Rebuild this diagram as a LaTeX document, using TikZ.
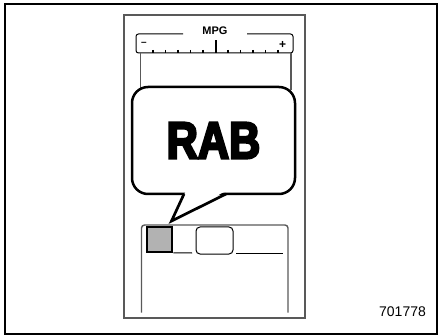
\documentclass[tikz,border=0pt]{standalone}
\usepackage{fontspec}
\setmainfont{Liberation Sans}
\font\rabf="Liberation Sans/B:embolden=4.5;extend=0.83" at 52pt
\begin{document}
\begin{tikzpicture}[x=1pt,y=-1pt,
  frameline/.style={draw=black,line width=1.2pt},
  devline/.style={draw=black!65,line width=1.4pt},
  gaugeline/.style={draw=black,line width=1pt},
  bubble/.style={draw=black,line width=2.5pt,rounded corners=16pt,fill=white,
    minimum width=163pt,minimum height=107pt,inner sep=0pt,
    font=\rabf},
  graybox/.style={draw=black,line width=2.8pt,fill=black!30,minimum width=25pt,minimum height=25pt,inner sep=0pt},
  softbox/.style={draw=black,line width=1pt,rounded corners=4pt,minimum width=37pt,minimum height=27pt,inner sep=0pt},
  tick/.style={draw=black,line width=1.1pt}]
\useasboundingbox (0,0) rectangle (438,336);
% outer frame
\draw[frameline] (5,4) rectangle (437,334);
% device frame
\draw[devline] (124,15) rectangle (305,318);
% gauge
\node[font=\bfseries\fontsize{11}{11}\selectfont,inner sep=0pt] (mpg) at (215,31) {MPG};
\draw[gaugeline,rounded corners=2.5pt] (183,34) -- (136,34) -- (136,53) -- (293,53) -- (293,34) -- (247,34);
\node[font=\bfseries\fontsize{10}{10}\selectfont,inner sep=0pt] (minus) at (144,44) {\char"2013};
\node[font=\bfseries\fontsize{12}{12}\selectfont,inner sep=0pt] (plus) at (282.5,45) {+};
\foreach \i in {0,1,2,3,4,6,7,8,9,10}{
  \draw[tick] (153+\i*12.5,50) -- (153+\i*12.5,53);
}
\draw[line width=2pt] (215.5,40.5) -- (215.5,53);
% inner screen side lines
\draw[devline] (140.5,53) -- (140.5,90);
\draw[devline] (291,53) -- (291,90);
% lower panel
\draw[devline,rounded corners=3pt] (141.5,312.5) -- (141.5,225) -- (288,225) -- (288,312.5);
\node[graybox] (gbox) at (159.5,239.5) {};
\draw[gaugeline] (gbox.south east) ++(0,-0.5) -- (192,253);
\node[softbox] (sbox) at (214.5,240.5) {};
\draw[gaugeline] (236,253.5) -- (283,253.5);
% bubble
\node[bubble] (bub) at (213.5,140.5) {RAB};
\coordinate (tip) at (171.5,221);
\fill[white] (185.5,191.8) -- (173,218.5) -- (224.5,191.8) -- cycle;
\draw[line width=2.7pt,line join=miter] (184,194) -- (tip) -- (226,194);
% code
\node[font=\fontsize{14}{14}\selectfont,inner sep=0pt] (code) at (402.5,312) {701778};
\end{tikzpicture}
\end{document}
